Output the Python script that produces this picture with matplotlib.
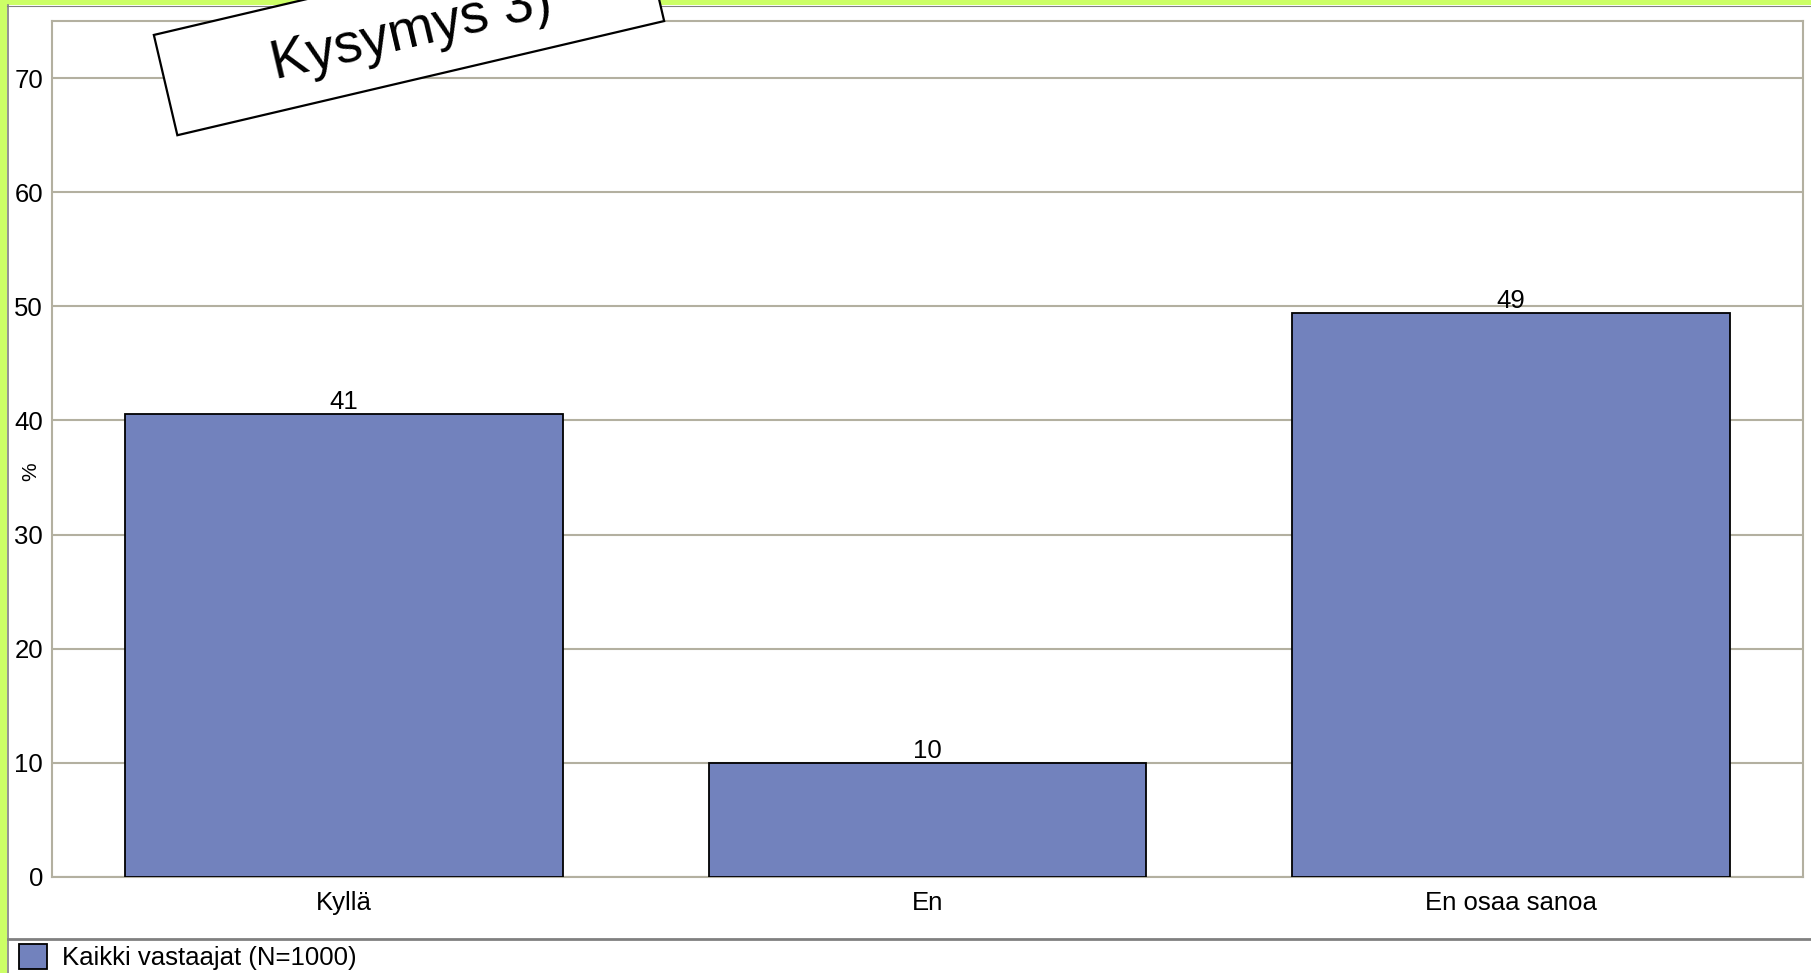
import matplotlib
matplotlib.use('Agg')
import matplotlib.pyplot as plt
import matplotlib.transforms as mtransforms
from matplotlib.patches import Rectangle

plt.rcParams['font.family'] = ['Liberation Sans', 'DejaVu Sans']

# data
categories = ['Kyllä', 'En', 'En osaa sanoa']
values = [40.6, 10.0, 49.4]
series_name = 'Kaikki vastaajat (N=1000)'
title = 'Kysymys 3)'
yticks = [0, 10, 20, 30, 40, 50, 60, 70]

bar_color = '#7282bd'
grid_color = '#b3b0a0'
green = '#ccff66'
fs = 18.5

fig = plt.figure(figsize=(18.11, 9.73), dpi=100)
fig.patch.set_facecolor('white')

ax = fig.add_axes([0.0287, 0.0987, 0.9669, 0.8797])
bars = ax.bar(range(len(categories)), values, width=0.75, color=bar_color,
              edgecolor='black', linewidth=1.3, label=series_name, zorder=3)
ax.bar_label(bars, labels=['%.0f' % v for v in values], padding=0, fontsize=fs)

ax.set_xlim(-0.5, len(categories) - 0.5)
ax.set_ylim(0, 75)
ax.set_yticks(yticks)
ax.set_xticks(range(len(categories)))
ax.set_xticklabels(categories)
ax.tick_params(axis='both', length=0, labelsize=fs)
ax.tick_params(axis='y', pad=6.5)
ax.tick_params(axis='x', pad=10)
ax.yaxis.grid(True, color=grid_color, linewidth=1.5)
ax.set_axisbelow(True)
for s in ax.spines.values():
    s.set_color(grid_color)
    s.set_linewidth(1.5)
ax.set_ylabel('%', fontsize=15)
ax.yaxis.set_label_coords(-0.0066, 0.474)

# legend under the separator line
fig.legend(handles=[bars], labels=[series_name], loc='center left',
           bbox_to_anchor=(0.0047, 0.0165), frameon=False, fontsize=fs,
           handlelength=1.1, handleheight=1.1, handletextpad=0.6,
           borderaxespad=0)

# separator + green frame
fig.add_artist(plt.Line2D([8 / 1811, 1], [1 - 939 / 973] * 2, color='#808080',
                          linewidth=2, transform=fig.transFigure))
fig.add_artist(Rectangle((0, 0), 7 / 1811, 1, transform=fig.transFigure,
                         facecolor=green, edgecolor='none'))
fig.add_artist(Rectangle((0, 1 - 5 / 973), 1, 5 / 973, transform=fig.transFigure,
                         facecolor=green, edgecolor='none'))
fig.add_artist(plt.Line2D([7.5 / 1811] * 2, [0, 1 - 5 / 973], color='#808080',
                          linewidth=1.2, transform=fig.transFigure))
fig.add_artist(plt.Line2D([7 / 1811, 1], [1 - 5.5 / 973] * 2, color='#808080',
                          linewidth=0.8, transform=fig.transFigure))

# rotated title box
cx, cy = 4.09, 9.45
w, h = 5.0, 1.03
rot = mtransforms.Affine2D().rotate_deg_around(cx, cy, 13.2) + fig.dpi_scale_trans
fig.add_artist(Rectangle((cx - w / 2, cy - h / 2), w, h, transform=rot,
                         facecolor='white', edgecolor='black', linewidth=1.6,
                         zorder=5))
fig.text(cx + 0.03, cy - 0.05, title, transform=fig.dpi_scale_trans, rotation=13.2,
         rotation_mode='anchor', ha='center', va='center', fontsize=40, zorder=6)

fig.savefig('out.png', dpi=100)
